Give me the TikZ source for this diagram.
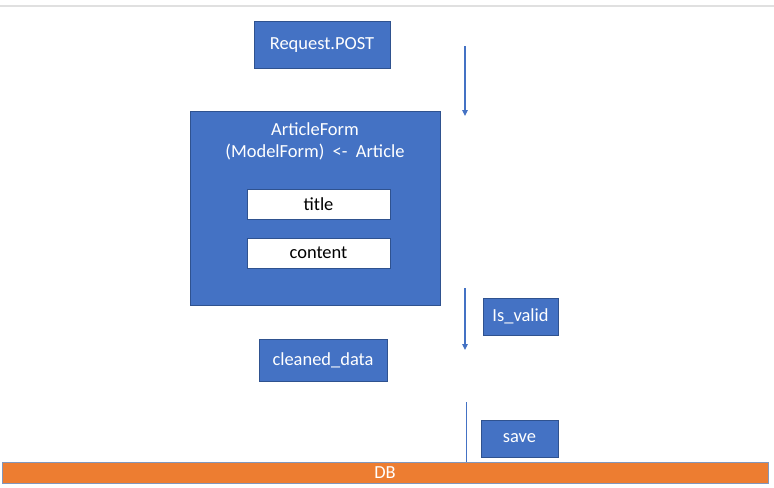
\documentclass[tikz,border=0pt]{standalone}
\usepackage{fontspec}
\setmainfont{Carlito}
\usepackage{xcolor}
\usetikzlibrary{arrows.meta}
\definecolor{boxblue}{HTML}{4472C4}
\definecolor{edgeblue}{HTML}{2F528F}
\definecolor{dborange}{HTML}{ED7D31}

\begin{document}
\begin{tikzpicture}[x=0.02cm, y=-0.02cm, font=\fontsize{10.5}{12.5}\selectfont,
	bluebox/.style={draw=edgeblue, line width=0.4pt, fill=boxblue, text=white, inner sep=0pt},
	fieldbox/.style={draw=edgeblue, line width=0.4pt, fill=white, text=black, inner sep=0pt,
	  minimum width=2.86cm, minimum height=0.6cm},
	flow/.style={draw=boxblue, line width=0.6pt, -{Triangle[length=1.2mm, width=1.1mm]}}]
	\useasboundingbox (0,0) rectangle (774,487);
	\fill[white] (0,0) rectangle (774,487);
	\draw[color=black!12, line width=0.8pt] (0,6) -- (774,6);
	% boxes
	\node[bluebox, minimum width=2.72cm, minimum height=0.94cm] (reqpost) at (322,44.5) {Request.POST};
	\node[bluebox, minimum width=5cm, minimum height=3.88cm] (artform) at (315,208) {};
	\node[text=white, align=center] (artlabel) at (315,141) {ArticleForm\\(ModelForm) \ <- \ Article};
	\node[fieldbox] (title) at (318.5,204) {title};
	\node[fieldbox] (content) at (318.5,253) {content};
	\node[bluebox, minimum width=1.5cm, minimum height=0.74cm] (isvalid) at (520.5,316.5) {Is\_valid};
	\node[bluebox, minimum width=2.56cm, minimum height=0.84cm] (cleaned) at (323,360) {cleaned\_data};
	\node[bluebox, minimum width=1.54cm, minimum height=0.74cm] (save) at (519.5,438.5) {save};
	\node[draw=edgeblue!60, line width=0.4pt, fill=dborange, text=white, inner sep=0pt,
	  minimum width=15.32cm, minimum height=0.42cm] (db) at (385,472.5) {DB};
	% connectors
	\coordinate (p1) at (465,46);
	\coordinate (p2) at (465,116);
	\coordinate (p3) at (465,288);
	\coordinate (p4) at (465,350);
	\coordinate (p5) at (466,402);
	\draw[flow] (p1) -- (p2);
	\draw[flow] (p3) -- (p4);
	\draw[draw=boxblue, line width=0.5pt] (p5) -- (p5 |- db.north);
\end{tikzpicture}
\end{document}
